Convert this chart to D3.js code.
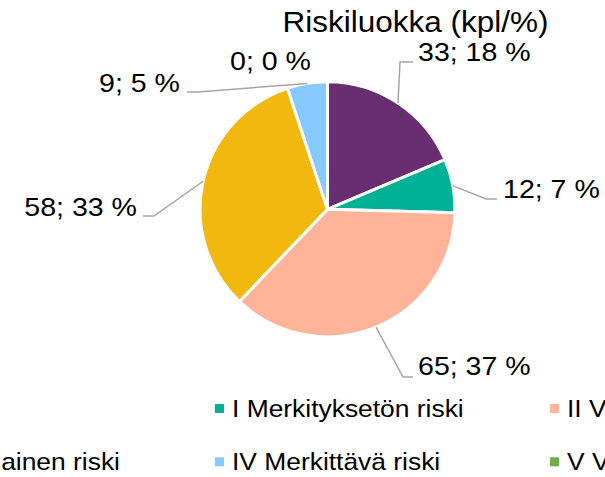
<!DOCTYPE html>
<html>
<head>
<meta charset="utf-8">
<script src="https://cdn.jsdelivr.net/npm/d3@7"></script>
<style>
  html, body { margin: 0; padding: 0; background: #fff; overflow: hidden; }
  text { font-family: "Liberation Sans", Arial, Helvetica, sans-serif; fill: #000; }
</style>
</head>
<body>
<svg id="chart" width="605" height="477"></svg>
<script>
// Risk classes, counts (kpl) and the percentage shown in each label
const categories = [
  "Ei riskiä",
  "I Merkityksetön riski",
  "II Vähäinen riski",
  "III Kohtalainen riski",
  "IV Merkittävä riski",
  "V Vakava riski"
];
const counts = [33, 12, 65, 58, 9, 0];
const percentLabels = ["18 %", "7 %", "37 %", "33 %", "5 %", "0 %"];
const colors = ["#682e71", "#00b195", "#ffb398", "#f1b80f", "#85c9fe", "#70ad47"];
const chartTitle = "Riskiluokka (kpl/%)";

// Label placement (baseline point, anchor) and leader elbow/end points
const labelLayout = [
  { x: 418, y: 61,  anchor: "start", elbow: [400, 62],  end: [413, 62] },
  { x: 503, y: 198, anchor: "start", elbow: [486, 199], end: [497, 199] },
  { x: 418, y: 375, anchor: "start", elbow: [403, 377], end: [413, 377] },
  { x: 137, y: 216, anchor: "end",   elbow: [154, 216], end: [143, 216] },
  { x: 180, y: 92,  anchor: "end",   elbow: [198, 92],  end: [187, 92] },
  { x: 230, y: 70,  anchor: "start", elbow: null,       end: null }
];

const svg = d3.select("#chart");
const cx = 327.5, cy = 209.3, radius = 127.5;

// Horizontally stretched text helper
function stretchedText(parent, str, x, y, size, sx, anchor) {
  return parent.append("text")
    .attr("transform", `translate(${x},${y}) scale(${sx},1)`)
    .attr("text-anchor", anchor)
    .style("font-size", size + "px")
    .text(str);
}

// Title
stretchedText(svg, chartTitle, 415.5, 31.5, 30, 1.05, "middle");

// Pie
const pie = d3.pie().value(d => d).sort(null);
const arcs = pie(counts);
const arc = d3.arc().innerRadius(0).outerRadius(radius);

const g = svg.append("g").attr("transform", `translate(${cx},${cy})`);
g.selectAll("path.slice")
  .data(arcs)
  .join("path")
  .attr("class", "slice")
  .attr("d", arc)
  .attr("fill", (d, i) => colors[i])
  .attr("stroke", "#fff")
  .attr("stroke-width", 3)
  .attr("stroke-linejoin", "round");

// Leader lines from each slice's outer edge at its mid-angle
const leaders = svg.append("g")
  .attr("fill", "none")
  .attr("stroke", "#a6a6a6")
  .attr("stroke-width", 1.5);

arcs.forEach((a, i) => {
  const L = labelLayout[i];
  if (L.elbow) {
    const mid = (a.startAngle + a.endAngle) / 2;
    const sx = cx + radius * Math.sin(mid);
    const sy = cy - radius * Math.cos(mid);
    leaders.append("path")
      .attr("d", d3.line()([[sx, sy], L.elbow, L.end]));
  }
  stretchedText(svg, `${counts[i]}; ${percentLabels[i]}`, L.x, L.y, 25.5, 1.12, L.anchor);
});

// Legend: three columns, two rows
const legendCols = [-120, 215, 550];
const legendRows = [416.7, 470];
const legend = svg.append("g");
categories.forEach((c, i) => {
  const col = i % 3, row = Math.floor(i / 3);
  const x = legendCols[col], y = legendRows[row];
  legend.append("rect")
    .attr("x", x).attr("y", y - 12.7)
    .attr("width", 9).attr("height", 9)
    .attr("fill", colors[i]);
  stretchedText(legend, c, x + 17, y, 24, 1.1, "start");
});
</script>
</body>
</html>
